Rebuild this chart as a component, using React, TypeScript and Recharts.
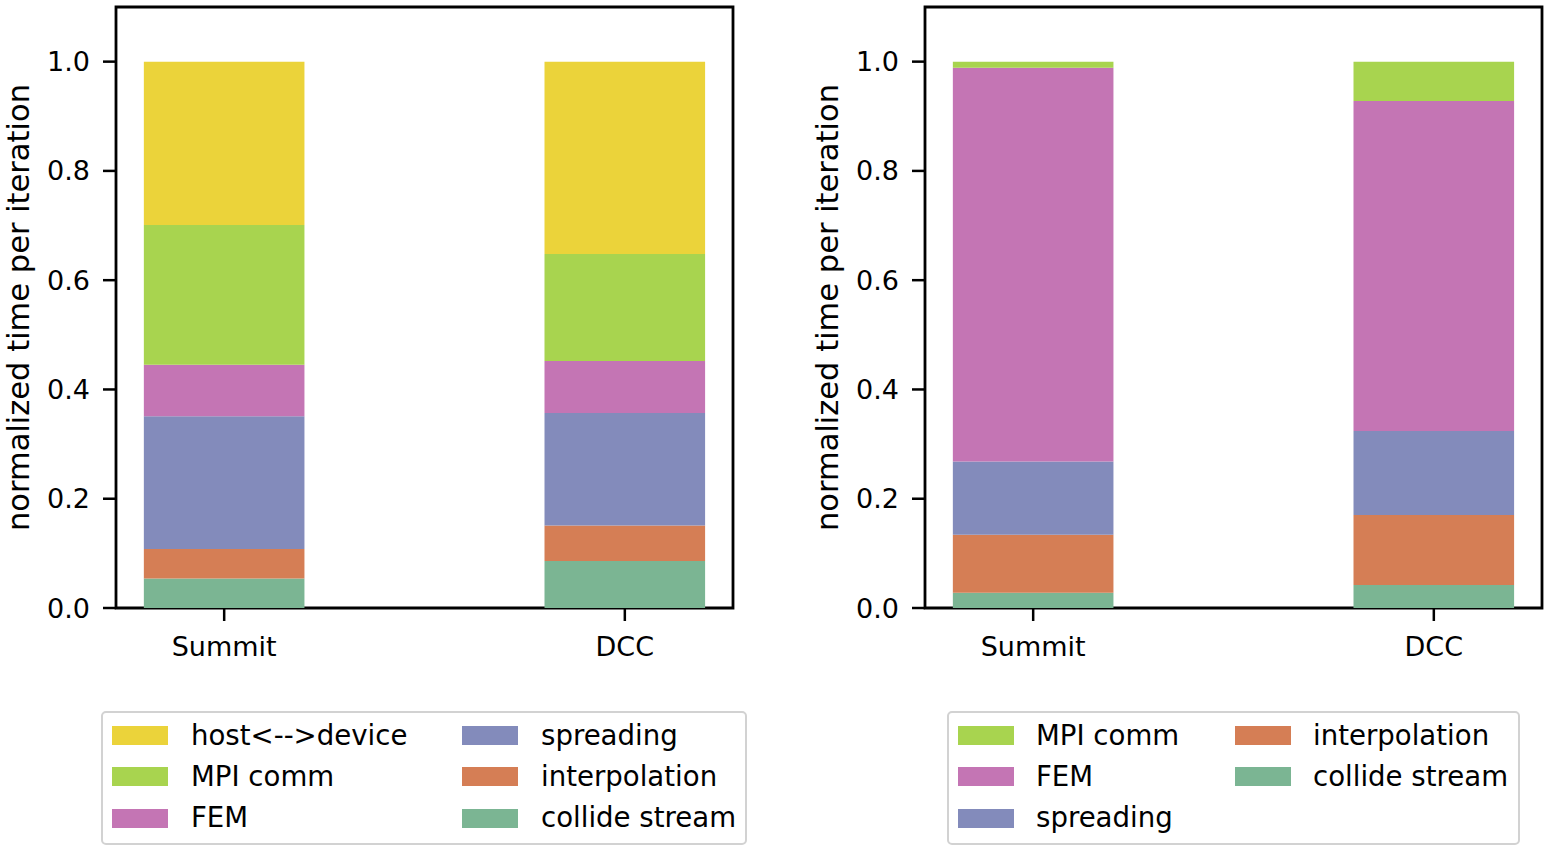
import React from 'react';
import { BarChart, Bar, XAxis, YAxis, ReferenceArea } from 'recharts';

const categories = ['Summit', 'DCC'];

// left panel (bottom to top)
const leftCollide = [0.054, 0.086];
const leftInterp = [0.054, 0.065];
const leftSpreading = [0.243, 0.206];
const leftFem = [0.094, 0.095];
const leftMpi = [0.256, 0.196];
const leftHost = [0.299, 0.352];

// right panel (bottom to top)
const rightCollide = [0.028, 0.042];
const rightInterp = [0.106, 0.128];
const rightSpreading = [0.134, 0.154];
const rightFem = [0.721, 0.604];
const rightMpi = [0.011, 0.072];

const yTicks = [0, 0.2, 0.4, 0.6, 0.8, 1.0];

const COLORS: Record<string, string> = {
  host: '#ebd33a',
  mpi: '#a8d44f',
  fem: '#c475b4',
  spreading: '#838bbb',
  interp: '#d57e55',
  collide: '#7bb593',
};

const LABELS: Record<string, string> = {
  host: 'host<-->device',
  mpi: 'MPI comm',
  fem: 'FEM',
  spreading: 'spreading',
  interp: 'interpolation',
  collide: 'collide stream',
};

const FONT = '"DejaVu Sans", Verdana, sans-serif';

const leftData = categories.map((name, i) => ({
  x: i,
  name,
  collide: leftCollide[i],
  interp: leftInterp[i],
  spreading: leftSpreading[i],
  fem: leftFem[i],
  mpi: leftMpi[i],
  host: leftHost[i],
}));

const rightData = categories.map((name, i) => ({
  x: i,
  name,
  collide: rightCollide[i],
  interp: rightInterp[i],
  spreading: rightSpreading[i],
  fem: rightFem[i],
  mpi: rightMpi[i],
}));

function Panel({ data, keys, left }: { data: any[]; keys: string[]; left: number }) {
  const tickStyle = { fontSize: 27, fill: '#000', fontFamily: FONT };
  return (
    <div style={{ position: 'absolute', left, top: 0 }}>
      <BarChart
        width={760}
        height={700}
        data={data}
        margin={{ top: 7, right: 27, left: 0, bottom: 32 }}
      >
        <XAxis
          dataKey="x"
          type="number"
          domain={[-0.27, 1.27]}
          ticks={[0, 1]}
          tickFormatter={(v: number) => categories[v]}
          allowDataOverflow
          axisLine={false}
          tickLine={{ stroke: '#000', strokeWidth: 2.5 }}
          tickSize={13}
          tickMargin={16}
          tick={tickStyle}
          height={60}
        />
        <YAxis
          type="number"
          domain={[0, 1.1]}
          ticks={yTicks}
          allowDataOverflow
          tickFormatter={(v: number) => v.toFixed(1)}
          axisLine={false}
          tickLine={{ stroke: '#000', strokeWidth: 2.5 }}
          tickSize={13}
          tickMargin={13}
          tick={tickStyle}
          width={116}
          label={{
            value: 'normalized time per iteration',
            angle: -90,
            position: 'insideLeft',
            offset: 18,
            style: { textAnchor: 'middle', fontSize: 30.5, fill: '#000', fontFamily: FONT },
          }}
        />
        {keys.map((k) => (
          <Bar
            key={k}
            dataKey={k}
            stackId="a"
            fill={COLORS[k]}
            barSize={160.6}
            isAnimationActive={false}
          />
        ))}
        <ReferenceArea
          x1={-0.27}
          x2={1.27}
          y1={0}
          y2={1.1}
          fill="none"
          fillOpacity={0}
          stroke="#000"
          strokeWidth={2.8}
          ifOverflow="visible"
        />
      </BarChart>
    </div>
  );
}

const ROWS = [735.5, 776.8, 818];

function LegendBox({
  left,
  width,
  cols,
}: {
  left: number;
  width: number;
  cols: { patchX: number; textX: number; keys: string[] }[];
}) {
  return (
    <>
      <div
        style={{
          position: 'absolute',
          left,
          top: 711,
          width,
          height: 134,
          boxSizing: 'border-box',
          border: '2px solid #d2d2d2',
          borderRadius: 5,
          background: '#fff',
        }}
      />
      {cols.map((c) =>
        c.keys.map((k, r) => (
          <React.Fragment key={k}>
            <div
              style={{
                position: 'absolute',
                left: c.patchX,
                top: ROWS[r] - 9.5,
                width: 56,
                height: 19,
                background: COLORS[k],
              }}
            />
            <div
              style={{
                position: 'absolute',
                left: c.textX - 1,
                top: ROWS[r],
                transform: 'translateY(-50%)',
                fontSize: 27.6,
                lineHeight: 1,
                fontFamily: FONT,
                color: '#000',
                whiteSpace: 'nowrap',
              }}
            >
              {LABELS[k]}
            </div>
          </React.Fragment>
        ))
      )}
    </>
  );
}

export default function App() {
  return (
    <div
      style={{
        position: 'absolute',
        left: 0,
        top: 0,
        width: 1552,
        height: 852,
        overflow: 'hidden',
        background: '#fff',
        fontFamily: FONT,
      }}
    >
      <Panel data={leftData} keys={['collide', 'interp', 'spreading', 'fem', 'mpi', 'host']} left={0} />
      <Panel data={rightData} keys={['collide', 'interp', 'spreading', 'fem', 'mpi']} left={809} />
      <LegendBox
        left={101}
        width={646}
        cols={[
          { patchX: 112, textX: 192, keys: ['host', 'mpi', 'fem'] },
          { patchX: 462, textX: 542, keys: ['spreading', 'interp', 'collide'] },
        ]}
      />
      <LegendBox
        left={947}
        width={573}
        cols={[
          { patchX: 958, textX: 1037, keys: ['mpi', 'fem', 'spreading'] },
          { patchX: 1235, textX: 1314, keys: ['interp', 'collide'] },
        ]}
      />
    </div>
  );
}
